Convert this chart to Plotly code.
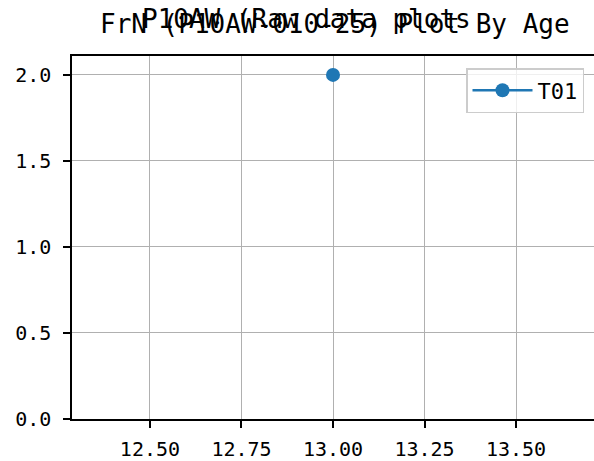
import plotly.graph_objects as go

ages = [13.0]
values = [2.0]
series_name = "T01"
x_ticks = [12.50, 12.75, 13.00, 13.25, 13.50]
x_tick_labels = ["12.50", "12.75", "13.00", "13.25", "13.50"]
y_ticks = [0.0, 0.5, 1.0, 1.5, 2.0]
y_tick_labels = ["0.0", "0.5", "1.0", "1.5", "2.0"]
title_line1 = "P10AW (Raw data plots"
title_line2 = "FrN (P10AW-010-25) Plot By Age"

FONT = "DejaVu Sans Mono, monospace"

L, R, T, B = 72, 0, 56, 42
W, H = 594, 461
plot_w = W - L - R
plot_h = H - T - B

def px_x(px):
    return (px - L) / plot_w

def px_y(py_from_top):
    return (H - B - py_from_top) / plot_h

fig = go.Figure()
fig.add_trace(go.Scatter(
    x=ages, y=values, name=series_name, mode="lines+markers",
    line=dict(color="#1f77b4", width=2.5),
    marker=dict(color="#1f77b4", size=14),
    showlegend=True,
))

axis_common = dict(
    showgrid=True, gridcolor="#b0b0b0", gridwidth=1,
    showline=True, linecolor="black", linewidth=1.5, mirror=True,
    ticks="outside", ticklen=7, tickwidth=1.5, tickcolor="black",
    zeroline=False, automargin=False,
    tickfont=dict(family=FONT, size=20, color="black"),
)

fig.update_layout(
    width=W, height=H,
    margin=dict(l=L, r=R, t=T, b=B, autoexpand=False),
    paper_bgcolor="white", plot_bgcolor="white",
    font=dict(family=FONT, color="black"),
    xaxis=dict(range=[12.287, 13.713], tickvals=x_ticks, ticktext=x_tick_labels,
               ticklabelstandoff=4, **axis_common),
    yaxis=dict(range=[0, 2.11], tickvals=y_ticks, ticktext=y_tick_labels,
               ticklabelstandoff=8, **axis_common),
    legend=dict(
        x=px_x(584), y=px_y(68), xanchor="right", yanchor="top",
        bgcolor="rgba(255,255,255,0.8)", bordercolor="#cccccc", borderwidth=1.5,
        font=dict(family=FONT, size=22, color="black"),
        itemwidth=60, entrywidth=70, tracegroupgap=0,
    ),
    annotations=[
        dict(text=title_line1, x=px_x(306), y=px_y(36), xref="paper", yref="paper",
             xanchor="center", yanchor="bottom",
             showarrow=False, font=dict(family=FONT, size=26, color="black")),
        dict(text=title_line2, x=px_x(335), y=px_y(41), xref="paper", yref="paper",
             xanchor="center", yanchor="bottom",
             showarrow=False, font=dict(family=FONT, size=26, color="black")),
    ],
)

fig.write_html(
    "out.html",
    config={"displayModeBar": False},
    post_script="document.body.style.margin='0';document.body.style.overflow='hidden';",
)
